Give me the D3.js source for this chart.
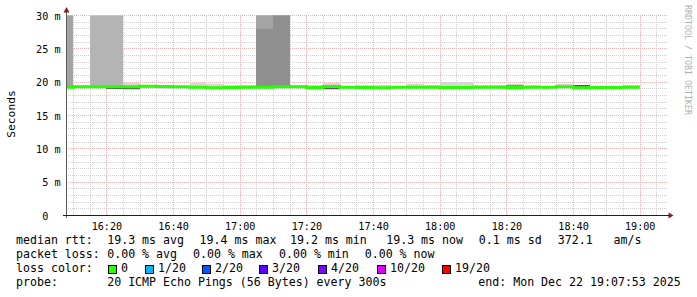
<!DOCTYPE html>
<html><head><meta charset="utf-8">
<script src="https://cdn.jsdelivr.net/npm/d3@7"></script>
<style>
html,body{margin:0;padding:0;background:#fff;}
svg{display:block;}
text{font-family:"DejaVu Sans Mono",monospace;white-space:pre;}
</style></head><body>
<svg id="chart" width="697" height="297"></svg>
<script>
// ---------- data ----------
const chartStart = "16:07:53";
const chartEnd = "19:07:53";
const stepEnds = ["16:10","16:15","16:20","16:25","16:30","16:35","16:40","16:45","16:50","16:55",
  "17:00","17:05","17:10","17:15","17:20","17:25","17:30","17:35","17:40","17:45",
  "17:50","17:55","18:00","18:05","18:10","18:15","18:20","18:25","18:30","18:35",
  "18:40","18:45","18:50","18:55","19:00"];
// median rtt per step (ms)
const median = [19.25,19.3,19.3,19.3,19.3,19.4,19.35,19.3,19.25,19.15,
  19.2,19.25,19.25,19.3,19.3,19.2,19.35,19.25,19.2,19.15,
  19.25,19.25,19.25,19.2,19.2,19.25,19.25,19.2,19.25,19.25,
  19.3,19.15,19.2,19.2,19.25];
// smoke: outermost pings (min..max)
const band1Lo = [19.1,19.2,19.2,18.95,18.9,19.2,19.0,19.15,19.1,19.05,
  19.1,19.1,19.1,19.1,19.2,18.9,18.9,19.2,19.1,19.05,
  19.15,19.15,19.15,19.1,19.05,19.15,19.15,18.9,19.15,19.2,
  19.2,19.1,19.15,19.15,18.95];
const band1Hi = [38,19.6,38,38,19.9,19.65,19.5,19.5,19.85,19.7,
  19.6,19.6,38,38,19.6,19.6,19.9,19.35,19.55,19.55,
  19.4,19.7,19.6,20.05,20.0,19.6,19.6,19.75,19.6,19.35,
  19.8,19.6,19.3,19.3,19.6];
// smoke: 3rd ping pair
const band3Lo = [19.15,null,19.25,19.0,null,null,null,null,null,null,
  null,null,19.15,19.15,null,null,null,null,null,null,
  null,null,null,null,null,null,null,null,null,null,
  null,null,null,null,null];
const band3Hi = [34,null,34,33,null,null,null,null,null,null,
  null,null,34,34,null,null,null,null,null,null,
  null,null,null,null,null,null,null,null,null,null,
  null,null,null,null,null];
// smoke: 4th ping pair
const band4Lo = [19.15,null,null,null,null,null,null,null,null,null,
  null,null,19.15,19.2,null,null,null,null,null,null,
  null,null,null,null,null,null,null,null,null,null,
  null,null,null,null,null];
const band4Hi = [33,null,null,null,null,null,null,null,null,null,
  null,null,33,33,null,null,null,null,null,null,
  null,null,null,null,null,null,null,null,null,null,
  null,null,null,null,null];
// smoke: 5th ping pair
const band5Lo = [null,null,null,null,null,null,null,null,null,null,
  null,null,19.2,19.2,null,null,null,null,null,null,
  null,null,null,null,null,null,null,19.0,null,null,
  null,null,null,null,null];
const band5Hi = [null,null,null,null,null,null,null,null,null,null,
  null,null,28.0,32,null,null,null,null,null,null,
  null,null,null,null,null,null,null,19.65,null,null,
  null,null,null,null,null];
// smoke: inner pings
const band8Lo = [null,null,null,18.95,18.95,null,null,null,null,null,
  null,null,19.1,null,null,null,18.95,null,null,null,
  null,null,null,null,null,null,null,null,null,null,
  null,19.1,null,null,null];
const band8Hi = [null,null,null,19.2,19.3,null,null,null,null,null,
  null,null,19.35,null,null,null,19.3,null,null,null,
  null,null,null,null,null,null,null,null,null,null,
  null,19.55,null,null,null];

const yTickValues = [0,5,10,15,20,25,30];           // ms
const xTickLabels = ["16:20","16:40","17:00","17:20","17:40","18:00","18:20","18:40","19:00"];
const yTitle = "Seconds";
const watermark = "RRDTOOL / TOBI OETIKER";

const rttLabel = "median rtt:";
const rttStats = ["19.3 ms avg","19.4 ms max","19.2 ms min","19.3 ms now","0.1 ms sd","372.1","am/s"];
const lossLabel = "packet loss:";
const lossStats = ["0.00 % avg","0.00 % max","0.00 % min","0.00 % now"];
const lossColorLabel = "loss color:";
const lossLabels = ["0","1/20","2/20","3/20","4/20","10/20","19/20"];
const lossColors = ["#26ff00","#00b8ff","#0059ff","#5e00ff","#7e00ff","#dd00ff","#ff0000"];
const probeLabel = "probe:";
const probeText = "20 ICMP Echo Pings (56 Bytes) every 300s";
const endText = "end: Mon Dec 22 19:07:53 2025";

// ---------- layout ----------
const parse = d3.utcParse("%Y-%m-%d %H:%M:%S");
const T = s => parse("2025-12-22 " + (s.length === 5 ? s + ":00" : s));
const L = 66, R = 666, TOP = 15.5, BOT = 215.5;
const x = d3.scaleUtc().domain([T(chartStart), T(chartEnd)]).range([L, R]);
const y = d3.scaleLinear().domain([0, 30]).range([BOT, TOP]);
const step = 5 * 60 * 1000;

const svg = d3.select("#chart");
svg.append("rect").attr("width", 697).attr("height", 297).attr("fill", "#fff");

svg.append("defs").append("clipPath").attr("id", "plot")
  .append("rect").attr("x", L).attr("y", TOP).attr("width", R - L).attr("height", BOT - TOP);

// grid
const minorCol = "#cfcfcf", majorCol = "#efb1b1";
const gGrid = svg.append("g").attr("shape-rendering", "crispEdges");
const minorX = d3.utcMinute.every(5).range(T("16:10"), T("19:07"));
const majorX = xTickLabels.map(T);
const isMajorX = d => majorX.some(m => +m === +d);
gGrid.selectAll(".vmin").data(minorX.filter(d => !isMajorX(d))).join("line")
  .attr("x1", d => Math.round(x(d)) + 0.5).attr("x2", d => Math.round(x(d)) + 0.5)
  .attr("y1", TOP).attr("y2", BOT)
  .attr("stroke", minorCol).attr("stroke-dasharray", "1,1");
const minorY = d3.range(1, 31).filter(v => v % 5 !== 0);
gGrid.selectAll(".hmin").data(minorY).join("line")
  .attr("x1", L).attr("x2", R + 2)
  .attr("y1", d => Math.round(y(d) - 0.5) + 0.5).attr("y2", d => Math.round(y(d) - 0.5) + 0.5)
  .attr("stroke", minorCol).attr("stroke-dasharray", "1,1");
gGrid.selectAll(".vmaj").data(majorX).join("line")
  .attr("x1", d => Math.round(x(d)) + 0.5).attr("x2", d => Math.round(x(d)) + 0.5)
  .attr("y1", TOP).attr("y2", BOT)
  .attr("stroke", majorCol).attr("stroke-dasharray", "1,1");
gGrid.selectAll(".hmaj").data(yTickValues.filter(v => v > 0)).join("line")
  .attr("x1", L).attr("x2", R + 2)
  .attr("y1", d => Math.round(y(d) - 0.5) + 0.5).attr("y2", d => Math.round(y(d) - 0.5) + 0.5)
  .attr("stroke", majorCol).attr("stroke-dasharray", "1,1");

// smoke
const gSmoke = svg.append("g").attr("clip-path", "url(#plot)").attr("shape-rendering", "crispEdges");
const bands = [
  {lo: band1Lo, hi: band1Hi, color: "#d6d6d6"},
  {lo: band3Lo, hi: band3Hi, color: "#b4b4b4"},
  {lo: band4Lo, hi: band4Hi, color: "#a4a4a4"},
  {lo: band5Lo, hi: band5Hi, color: "#8f8f8f"},
  {lo: band8Lo, hi: band8Hi, color: "#5a5a5a"}
];
bands.forEach(b => {
  const rows = stepEnds.map((t, i) => ({t: T(t), lo: b.lo[i], hi: b.hi[i]})).filter(r => r.lo != null);
  gSmoke.selectAll(null).data(rows).join("rect")
    .attr("x", d => x(new Date(+d.t - step)))
    .attr("width", d => x(d.t) - x(new Date(+d.t - step)))
    .attr("y", d => y(d.hi))
    .attr("height", d => y(d.lo) - y(d.hi))
    .attr("fill", b.color);
});

// median line
const pts = [];
stepEnds.forEach((t, i) => {
  const e = T(t);
  pts.push([new Date(+e - step), median[i]]);
  pts.push([e, median[i]]);
});
svg.append("g").attr("clip-path", "url(#plot)").append("path")
  .datum(pts)
  .attr("d", d3.line().x(d => x(d[0])).y(d => y(d[1])))
  .attr("fill", "none").attr("stroke", lossColors[0]).attr("stroke-width", 3);

// axes lines and arrows
svg.append("line").attr("x1", L + 0.5).attr("x2", L + 0.5).attr("y1", 218).attr("y2", 12)
  .attr("stroke", "#5a5a5a").attr("shape-rendering", "crispEdges");
svg.append("line").attr("x1", 63).attr("x2", 669).attr("y1", BOT).attr("y2", BOT)
  .attr("stroke", "#1f1f1f").attr("shape-rendering", "crispEdges");
svg.append("path").attr("d", `M${L - 2.5},12.5L${L + 3.5},12.5L${L + 0.5},7Z`).attr("fill", "#7f1f1f");
svg.append("path").attr("d", `M668.5,${BOT - 3}L668.5,${BOT + 3}L673.5,${BOT}Z`).attr("fill", "#7f1f1f");

// axis labels
const axisFont = "10.15px";
const xAxis = d3.axisBottom(x).tickValues(majorX).tickFormat(d3.utcFormat("%H:%M")).tickSize(0);
const gx = svg.append("g").attr("transform", `translate(0,${BOT})`).call(xAxis);
gx.select(".domain").remove();
gx.selectAll("text").attr("y", 14).attr("dy", 0).attr("font-size", axisFont)
  .attr("font-family", "DejaVu Sans Mono").attr("fill", "#000");

const yAxis = d3.axisLeft(y).tickValues(yTickValues)
  .tickFormat(d => d === 0 ? "0  " : d + " m").tickSize(0);
const gy = svg.append("g").attr("transform", `translate(60.5,0)`).call(yAxis);
gy.select(".domain").remove();
gy.selectAll("text").attr("x", 0).attr("dy", "0.35em").attr("font-size", axisFont)
  .attr("font-family", "DejaVu Sans Mono").attr("fill", "#000");

svg.append("text").attr("transform", "translate(14.5,114) rotate(-90)")
  .attr("text-anchor", "middle").attr("font-size", "11.3px").attr("fill", "#000").text(yTitle);

svg.append("text").attr("transform", "translate(685,5) rotate(90)")
  .attr("text-anchor", "start").attr("font-size", "8.3px").attr("fill", "#b0b0b0").text(watermark);

// legend
const fs = "11.6px";
const lg = svg.append("g").attr("font-size", fs).attr("fill", "#000");
const rows = [
  {y: 244.3, items: [[rttLabel, 16]].concat(rttStats.map((s, i) => [s, [107.2, 199.6, 290, 386.2, 478.8, 557.8, 613.5][i]]))},
  {y: 258.3, items: [[lossLabel, 16]].concat(lossStats.map((s, i) => [s, [107.2, 193, 279, 364.7][i]]))},
  {y: 272.3, items: [[lossColorLabel, 16]]},
  {y: 286.3, items: [[probeLabel, 16], [probeText, 107.2], [endText, 478.3]]}
];
rows.forEach(r => {
  r.items.forEach(([s, xx]) => lg.append("text").attr("x", xx).attr("y", r.y).text(s));
});
const boxX = [108.5, 145.5, 202.5, 259.5, 318.5, 377.5, 442.5];
lossLabels.forEach((s, i) => {
  lg.append("rect").attr("x", boxX[i]).attr("y", 265.5).attr("width", 8).attr("height", 8)
    .attr("fill", lossColors[i]).attr("stroke", "#000").attr("stroke-width", 1)
    .attr("shape-rendering", "crispEdges");
  lg.append("text").attr("x", boxX[i] + 12.5).attr("y", 272.3).text(s);
});
</script>
</body></html>
